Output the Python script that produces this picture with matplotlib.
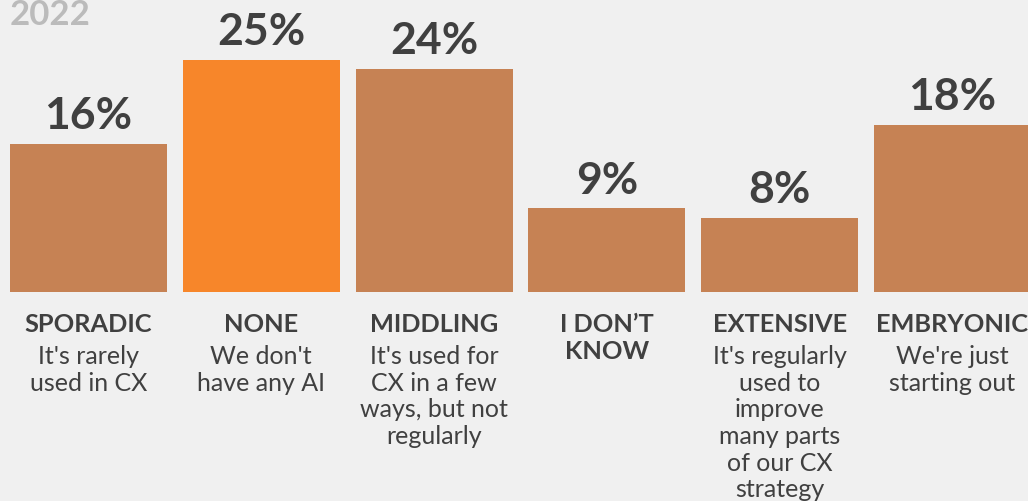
import matplotlib
matplotlib.use("Agg")
import matplotlib.pyplot as plt

# Survey results: maturity of AI use in customer experience (2022)
categories = ["SPORADIC", "NONE", "MIDDLING", "I DON\u2019T\nKNOW", "EXTENSIVE", "EMBRYONIC"]
descriptions = [
    "It's rarely\nused in CX",
    "We don't\nhave any AI",
    "It's used for\nCX in a few\nways, but not\nregularly",
    "",
    "It's regularly\nused to\nimprove\nmany parts\nof our CX\nstrategy",
    "We're just\nstarting out",
]
values = [16, 25, 24, 9, 8, 18]
highlight = "NONE"
year_label = "2022"

BG = "#F0F0F0"
BAR = "#C68254"
BAR_HI = "#F7862A"
TEXT = "#404040"
FONT = "Lato"

W, H = 1028, 502
fig = plt.figure(figsize=(W / 100, H / 100), dpi=100, facecolor=BG)

# axes placed in pixel units: baseline 209 px from bottom, 9.28 px per percent
px_per_unit = 9.28
ymax = 30
step = 172.8
left_px = 88.5 - step / 2
ax = fig.add_axes([left_px / W, 209 / H, step * 6 / W, ymax * px_per_unit / H])
ax.set_facecolor(BG)
ax.set_xlim(-0.5, 5.5)
ax.set_ylim(0, ymax)
ax.axis("off")

x = list(range(len(categories)))
colors = [BAR_HI if c == highlight else BAR for c in categories]
ax.bar(x, values, width=157 / step, color=colors, clip_on=False)

for xi, v in zip(x, values):
    ax.annotate(f"{v}%", xy=(xi, v), xytext=(0, 11.5), textcoords="offset points",
                ha="center", va="baseline", fontsize=32, fontweight="bold",
                family=FONT, color=TEXT, annotation_clip=False)

for xi, cat, desc in zip(x, categories, descriptions):
    ax.annotate(cat, xy=(xi, 0), xytext=(0, -14.5), textcoords="offset points",
                ha="center", va="top", fontsize=18.3, fontweight="bold",
                family=FONT, color=TEXT, linespacing=1.18, annotation_clip=False)
    if desc:
        ax.annotate(desc, xy=(xi, 0), xytext=(0, -37.5), textcoords="offset points",
                    ha="center", va="top", fontsize=18,
                    family=FONT, color=TEXT, linespacing=1.19, annotation_clip=False)

fig.text(10 / W, 1 - 25 / H, year_label, ha="left", va="baseline",
         fontsize=25, fontweight="bold", family=FONT, color="#BBBBBB")

fig.savefig("out.png", dpi=100, facecolor=BG)
